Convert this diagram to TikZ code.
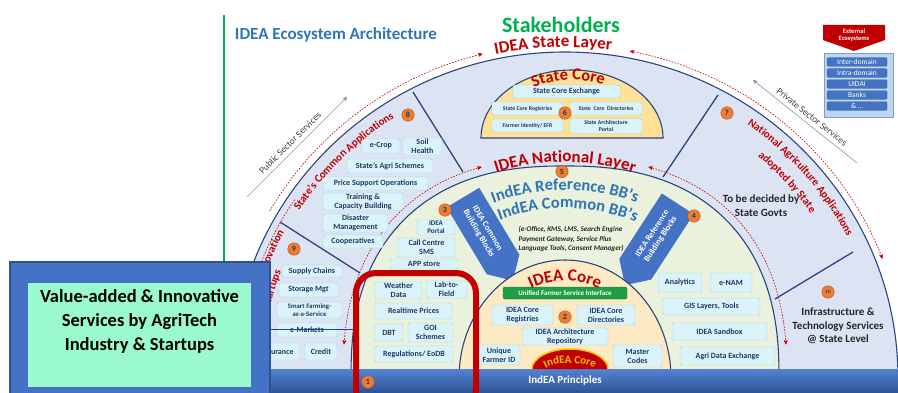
\documentclass[tikz,border=0pt]{standalone}
\usepackage{fontspec}
\setmainfont{Carlito}
\usepackage{tikz}
\usetikzlibrary{calc,shapes,shapes.symbols,arrows,decorations.text,positioning}

\definecolor{ringfill}{RGB}{220,227,242}
\definecolor{greenfill}{RGB}{234,241,220}
\definecolor{corefill}{RGB}{253,233,196}
\definecolor{stcorefill}{RGB}{253,225,150}
\definecolor{navyline}{RGB}{44,68,125}
\definecolor{idred}{RGB}{192,0,0}
\definecolor{idblue}{RGB}{46,117,182}
\definecolor{boxfill}{RGB}{218,243,249}
\definecolor{boxline}{RGB}{163,208,224}
\definecolor{txtnavy}{RGB}{31,56,100}
\definecolor{numor}{RGB}{237,125,49}
\definecolor{barblue}{RGB}{68,114,196}
\definecolor{bbedge}{RGB}{47,82,143}
\definecolor{bartop}{RGB}{84,130,210}
\definecolor{barbot}{RGB}{47,85,151}
\definecolor{mint}{RGB}{155,250,205}
\definecolor{stgreen}{RGB}{0,176,80}
\definecolor{ufsigreen}{RGB}{30,158,68}
\definecolor{gold}{RGB}{255,192,0}
\definecolor{extfill}{RGB}{189,215,238}
\definecolor{secgray}{RGB}{132,150,176}

\tikzstyle{region}=[draw=navyline,line width=1.1pt]
\tikzstyle{appbox}=[rectangle,fill=boxfill,draw=boxline,rounded corners=1.5pt,text=txtnavy,
  font=\bfseries\fontsize{8}{9}\selectfont,align=center,inner sep=0.5pt]
\tikzstyle{smallbox}=[appbox,font=\bfseries\fontsize{5.8}{6.5}\selectfont]
\tikzstyle{num}=[circle,fill=numor,draw=numor!75!black,inner sep=0pt,minimum size=12.5pt,
  text=txtnavy,font=\bfseries\fontsize{8}{8}\selectfont]
\tikzstyle{sepline}=[draw=navyline,line width=1.3pt]
\tikzstyle{reddash}=[draw=idred,dash pattern=on 1.6pt off 1.4pt,line width=0.6pt,>=stealth']
\tikzstyle{secline}=[draw=secgray,line width=0.6pt,>=stealth']
\tikzstyle{sectext}=[text=black!75,font=\fontsize{9.5}{9.5}\selectfont]
\tikzstyle{bblock}=[signal,fill=barblue,text=white,minimum width=97pt,minimum height=38pt,
  align=center,inner sep=1pt,font=\bfseries\fontsize{8.5}{10}\selectfont]
\tikzstyle{extbar}=[rectangle,fill=barblue,draw=bbedge,line width=0.3pt,rounded corners=1pt,
  minimum width=60pt,minimum height=8.5pt,inner sep=0pt,text=white,font=\fontsize{7.5}{7.5}\selectfont]
\tikzstyle{bigtext}=[text=black!85,font=\bfseries\fontsize{11}{13.5}\selectfont,align=center]

\begin{document}
\begin{tikzpicture}[x=1pt,y=1pt]
        \useasboundingbox (0,0) rectangle (898,392);
        \coordinate (o) at (565,14);
        \coordinate (sc) at (572,254);
        \coordinate (dm) at (570,23);

        % Margin line and headings:
        \coordinate (gl_a) at (224,377);
        \coordinate (gl_b) at (224,130);
        \draw[draw=stgreen,line width=1.6pt] (gl_a) -- (gl_b);
        \node[font=\bfseries\fontsize{17}{17}\selectfont,text=idblue] (t_title) at (336,357) {IDEA Ecosystem Architecture};
        \node[font=\bfseries\fontsize{22}{22}\selectfont,text=stgreen] (t_stake) at (561,367.5) {Stakeholders};

        % State layer and state core:
        \filldraw[region,fill=ringfill] (o) ++(333,0) arc[start angle=0,end angle=180,x radius=333,y radius=326] -- cycle;
        \filldraw[region,fill=stcorefill] (sc) ++(91,0) arc[start angle=0,end angle=180,x radius=91,y radius=68] -- cycle;
        \draw[reddash,->] (o) ++({341*cos(150)},{334*sin(150)}) arc[start angle=150,end angle=104,x radius=341,y radius=334];
        \draw[reddash,->] (o) ++({326*cos(146)},{319*sin(146)}) arc[start angle=146,end angle=176,x radius=326,y radius=319];
        \draw[reddash,<->] (o) ++({340*cos(79)},{333*sin(79)}) arc[start angle=79,end angle=21,x radius=340,y radius=333];

        % National layer:
        \filldraw[region,fill=greenfill] plot[domain=0.5:179.5,samples=90]
          ({565+214*sign(cos(\x))*pow(abs(cos(\x)),0.833)},{14+212*pow(abs(sin(\x)),0.833)}) -- cycle;
        \node[bblock,signal to=east,rotate=-59] (bb_com) at (483,161) {IDEA Common\\Building Blocks};
        \node[bblock,signal to=west,rotate=57] (bb_ref) at (656.5,155.5) {IDEA Reference\\Building Blocks};
        \draw[reddash,<->] plot[domain=108:174,samples=30]
          ({565+222*sign(cos(\x))*pow(abs(cos(\x)),0.833)},{14+220*pow(abs(sin(\x)),0.833)});
        \draw[reddash,<->] plot[domain=72:6,samples=30]
          ({565+222*sign(cos(\x))*pow(abs(cos(\x)),0.833)},{14+220*pow(abs(sin(\x)),0.833)});

        % IDEA core:
        \filldraw[region,fill=corefill] (o) ++(106,0) arc[start angle=0,end angle=180,x radius=106,y radius=118] -- cycle;

        % Separators:
        \coordinate (sp_a1) at (413,300); \coordinate (sp_a2) at (463,220);
        \coordinate (sp_b1) at (718,297); \coordinate (sp_b2) at (663,215);
        \coordinate (sp_c1) at (280,170); \coordinate (sp_c2) at (360,119);
        \coordinate (sp_d1) at (853,140); \coordinate (sp_d2) at (775,93);
        \draw[sepline] (sp_a1) -- (sp_a2);
        \draw[sepline] (sp_b1) -- (sp_b2);
        \draw[sepline] (sp_c1) -- (sp_c2);
        \draw[sepline] (sp_d1) -- (sp_d2);

        % State core boxes:
        \node[appbox,minimum width=107pt,minimum height=13pt] (sc_exch) at (566.5,300.5) {State Core Exchange};
        \node[smallbox,minimum width=71pt,minimum height=13pt] (sc_reg) at (527.5,283.5) {State Core Registries};
        \node[smallbox,minimum width=72pt,minimum height=13pt] (sc_dir) at (606,283.5) {State\ \ Core\ \ Directories};
        \node[smallbox,minimum width=71pt,minimum height=13pt] (sc_fid) at (527.5,266.5) {Farmer Identity/ EFR};
        \node[smallbox,minimum width=72pt,minimum height=15pt] (sc_port) at (606,266) {State Architecture\\Portal};
        \node[num] (n_6) at (565,279) {6};

        % State's common applications:
        \node[appbox,minimum width=38pt,minimum height=14pt] (s_ecrop) at (381,246) {e-Crop};
        \node[appbox,minimum width=39pt,minimum height=17pt] (s_soil) at (422.5,245.5) {Soil\\Health};
        \node[appbox,minimum width=86pt,minimum height=14pt] (s_agri) at (390,226) {State's Agri Schemes};
        \node[appbox,minimum width=105pt,minimum height=13pt] (s_price) at (375.5,208.5) {Price Support Operations};
        \node[appbox,minimum width=80pt,minimum height=17pt] (s_train) at (363,190.5) {Training \&\\Capacity Building};
        \node[appbox,minimum width=65pt,minimum height=18pt] (s_disas) at (355.5,169) {Disaster\\Management};
        \node[appbox,minimum width=60pt,minimum height=13pt] (s_coop) at (353,150.5) {Cooperatives};
        \node[num] (n_8) at (408,277) {8};

        % Innovation and startups:
        \node[appbox,minimum width=60pt,minimum height=12pt] (o_supc) at (312,121) {Supply Chains};
        \node[appbox,minimum width=59pt,minimum height=14pt] (o_stor) at (308.5,102) {Storage Mgt};
        \node[appbox,minimum width=65pt,minimum height=16pt,font=\bfseries\fontsize{6.8}{7.5}\selectfont] (o_smart) at (309.5,82) {Smart Farming-\\as-a-Service};
        \node[appbox,minimum width=60pt,minimum height=14pt] (o_emkt) at (307,62) {e-Markets};
        \node[appbox,minimum width=45pt,minimum height=17pt] (o_insu) at (277.5,40.5) {Insurance};
        \node[appbox,minimum width=32pt,minimum height=17pt] (o_cred) at (321,40.5) {Credit};
        \node[num] (n_9) at (294,143) {9};

        % National layer boxes:
        \node[appbox,minimum width=38pt,minimum height=15pt,font=\bfseries\fontsize{7}{7.5}\selectfont] (g_portal) at (436,164.5) {IDEA\\Portal};
        \node[appbox,minimum width=57pt,minimum height=19pt] (g_call) at (426.5,144.5) {Call Centre\\SMS};
        \node[appbox,minimum width=68pt,minimum height=10pt] (g_app) at (424,128) {APP store};
        \node[num] (n_3) at (445,182) {3};
        \node[appbox,minimum width=47pt,minimum height=17pt] (r_wea) at (398.5,101.5) {Weather\\Data};
        \node[appbox,minimum width=41pt,minimum height=17pt] (r_lab) at (446.5,102.5) {Lab-to-\\Field};
        \node[appbox,minimum width=77pt,minimum height=16pt] (r_real) at (413.5,81) {Realtime Prices};
        \node[appbox,minimum width=28pt,minimum height=17pt] (r_dbt) at (389,59.5) {DBT};
        \node[appbox,minimum width=45pt,minimum height=19pt] (r_goi) at (430.5,59.5) {GOI\\Schemes};
        \node[appbox,minimum width=78pt,minimum height=16pt] (r_reg) at (414,38) {Regulations/ EoDB};
        \node[appbox,minimum width=44pt,minimum height=19pt] (g_ana) at (680,109.5) {Analytics};
        \node[appbox,minimum width=42pt,minimum height=19pt] (g_enam) at (731,109.5) {e-NAM};
        \node[appbox,minimum width=97pt,minimum height=17pt] (g_gis) at (711.5,85.5) {GIS Layers, Tools};
        \node[appbox,minimum width=95pt,minimum height=17pt] (g_sand) at (719.5,60.5) {IDEA Sandbox};
        \node[appbox,minimum width=95pt,minimum height=18pt] (g_ade) at (727.5,36) {Agri Data Exchange};
        \node[num] (n_4) at (694,176) {4};
        \node[num] (n_5) at (562,220.5) {5};
        \node[anchor=west,align=left,text=black!85,font=\bfseries\itshape\fontsize{7.2}{9.5}\selectfont] (t_bbs) at (515,153)
          {(e-Office, KMS, LMS, Search Engine\\Payment Gateway, Service Plus\\Language Tools, Consent Manager)};

        % IDEA core boxes:
        \node[appbox,fill=ufsigreen,draw=ufsigreen!80!black,text=white,minimum width=124pt,minimum height=12pt,
          font=\bfseries\fontsize{7}{7}\selectfont] (c_ufsi) at (565,99) {Unified Farmer Service Interface};
        \node[appbox,minimum width=61pt,minimum height=20pt] (c_reg) at (522.5,77) {IDEA Core\\Registries};
        \node[appbox,minimum width=58pt,minimum height=20pt] (c_dir) at (606,77) {IDEA Core\\Directories};
        \node[num] (n_2) at (565,75) {2};
        \node[appbox,minimum width=86pt,minimum height=17pt] (c_arch) at (565,55.5) {IDEA Architecture\\Repository};
        \node[appbox,minimum width=42pt,minimum height=20pt] (c_ufid) at (499,37) {Unique\\Farmer ID};
        \node[appbox,minimum width=49pt,minimum height=22pt] (c_mcod) at (637.5,36) {Master\\Codes};

        % Right side of the state layer:
        \node[num] (n_7) at (727,279) {7};
        \node[bigtext] (t_dec) at (761,186.5) {To be decided by\\State Govts};
        \node[num,font=\bfseries\fontsize{5}{5}\selectfont] (n_10) at (828,100) {10};
        \node[bigtext] (t_infra) at (838,66) {Infrastructure \&\\Technology Services\\@ State Level};

        % Curved titles:
        \path[decorate,decoration={text along path,text align=center,text color=idred,
          text={|\bfseries\fontsize{17}{17}\selectfont|IDEA State Layer}}]
          (o) ++({340*cos(108)},{331*sin(108)}) arc[start angle=108,end angle=76,x radius=340,y radius=331];
        \path[decorate,decoration={text along path,text align=center,text color=idred,
          text={|\bfseries\fontsize{17}{17}\selectfont|IDEA National Layer}}]
          (o) ++({220*cos(113)},{216*sin(113)}) arc[start angle=113,end angle=67,x radius=220,y radius=216];
        \path[decorate,decoration={text along path,text align=center,text color=idblue,
          text={|\bfseries\fontsize{16.5}{16.5}\selectfont|IndEA Reference BB's}}]
          (o) ++({194*cos(116)},{188*sin(116)}) arc[start angle=116,end angle=64,x radius=194,y radius=188];
        \path[decorate,decoration={text along path,text align=center,text color=idblue,
          text={|\bfseries\fontsize{16.5}{16.5}\selectfont|IndEA Common BB's}}]
          (o) ++({176*cos(117)},{170*sin(117)}) arc[start angle=117,end angle=61,x radius=176,y radius=170];
        \path[decorate,decoration={text along path,text align=center,text color=idred,
          text={|\bfseries\fontsize{16.5}{16.5}\selectfont|State Core}}]
          (sc) ++({78*cos(128)},{58*sin(128)}) arc[start angle=128,end angle=58,x radius=78,y radius=58];
        \path[decorate,decoration={text along path,text align=center,text color=idred,
          text={|\bfseries\fontsize{17}{17}\selectfont|IDEA Core}}]
          (o) ++({88*cos(117)},{97*sin(117)}) arc[start angle=117,end angle=63,x radius=88,y radius=97];
        \path[decorate,decoration={text along path,text align=center,text color=idred,
          text={|\bfseries\fontsize{11}{11}\selectfont|State's Common Applications}}]
          (o) ++({316*cos(150)},{309*sin(150)}) arc[start angle=150,end angle=120,x radius=316,y radius=309];
        \path[decorate,decoration={text along path,text align=center,text color=idred,
          text={|\bfseries\fontsize{11}{11}\selectfont|National Agriculture Applications}}]
          (o) ++({317*cos(59)},{310*sin(59)}) arc[start angle=59,end angle=23,x radius=317,y radius=310];
        \path[decorate,decoration={text along path,text align=center,text color=idred,
          text={|\bfseries\fontsize{11}{11}\selectfont|adopted by State}}]
          (o) ++({298*cos(58)},{291*sin(58)}) arc[start angle=58,end angle=26,x radius=298,y radius=291];
        \path[decorate,decoration={text along path,text align=right,text color=idred,
          text={|\bfseries\fontsize{11}{11}\selectfont|Innovation}}]
          (o) ++({318*cos(182)},{311*sin(182)}) arc[start angle=182,end angle=152,x radius=318,y radius=311];
        \path[decorate,decoration={text along path,text align=right,text color=idred,
          text={|\bfseries\fontsize{11}{11}\selectfont|Startups}}]
          (o) ++({304*cos(186)},{297*sin(186)}) arc[start angle=186,end angle=159,x radius=304,y radius=297];

        % Principles bar and IndEA core:
        \node[top color=bartop,bottom color=barbot,minimum width=666pt,minimum height=23pt,inner sep=0pt,
          text=white,font=\bfseries\fontsize{11}{11}\selectfont] (bar) at (565,11.5) {IndEA Principles};
        \fill[idred] (dm) ++(38,0) arc[start angle=0,end angle=180,x radius=38,y radius=20] -- cycle;
        \draw[draw=gold,line width=1.5pt] (dm) ++(38,0) arc[start angle=0,end angle=180,x radius=38,y radius=20];
        \path[decorate,decoration={text along path,text align=center,text color=gold,
          text={|\bfseries\fontsize{11}{11}\selectfont|IndEA Core}}]
          (570,17) ++({30*cos(170)},{12*sin(170)}) arc[start angle=170,end angle=10,x radius=30,y radius=12];
        \node[num] (n_1) at (368,10) {1};

        % Highlight and value-added box:
        \node[draw=idred,line width=6pt,rounded corners=20pt,minimum width=120pt,minimum height=136pt] (rb) at (416,51) {};
        \node[draw=bbedge,fill=barblue,line width=2pt,minimum width=260pt,minimum height=135pt] (va_box) at (140,62.5) {};
        \node[fill=mint,inner sep=0pt,minimum width=223pt,minimum height=104pt] (va_in) at (139.5,57) {};
        \node[align=center,text=black,font=\bfseries\fontsize{18.5}{24}\selectfont] (va_t) at (139.5,71)
          {Value-added \& Innovative\\Services by AgriTech\\Industry \& Startups};
        \draw[draw=navyline,line width=1.6pt] (va_box.east) -- (va_box.east -| rb.west);

        % External ecosystems:
        \fill[idred] (823,367) -- (885,367) -- (885,352) -- (854,341) -- (823,352) -- cycle;
        \node[text=white,align=center,font=\bfseries\fontsize{6.5}{7.5}\selectfont] (ext_t) at (854,357) {External\\Ecosystems};
        \node[fill=extfill,draw=barblue!70,line width=0.6pt,minimum width=69pt,minimum height=64pt] (ext_box) at (858.5,307) {};
        \foreach \lbl [count=\i] in {Inter-domain,Intra-domain,UIDAI,Banks,\& \ldots}
          \node[extbar] (ext_\i) at (857,341-11*\i) {\lbl};

        % Public and private sector services:
        \coordinate (ps_a) at (247,195);
        \coordinate (ps_b) at (347,295);
        \draw[secline,->] (ps_a) -- (ps_b);
        \node[sectext,rotate=45] (ps_t) at (290,249) {Public Sector Services};
        \coordinate (pv_a) at (857,229);
        \coordinate (pv_b) at (753,312);
        \draw[secline,->] (pv_a) -- (pv_b);
        \node[sectext,rotate=-38.6] (pv_t) at (812,275) {Private Sector Services};
\end{tikzpicture}
\end{document}
